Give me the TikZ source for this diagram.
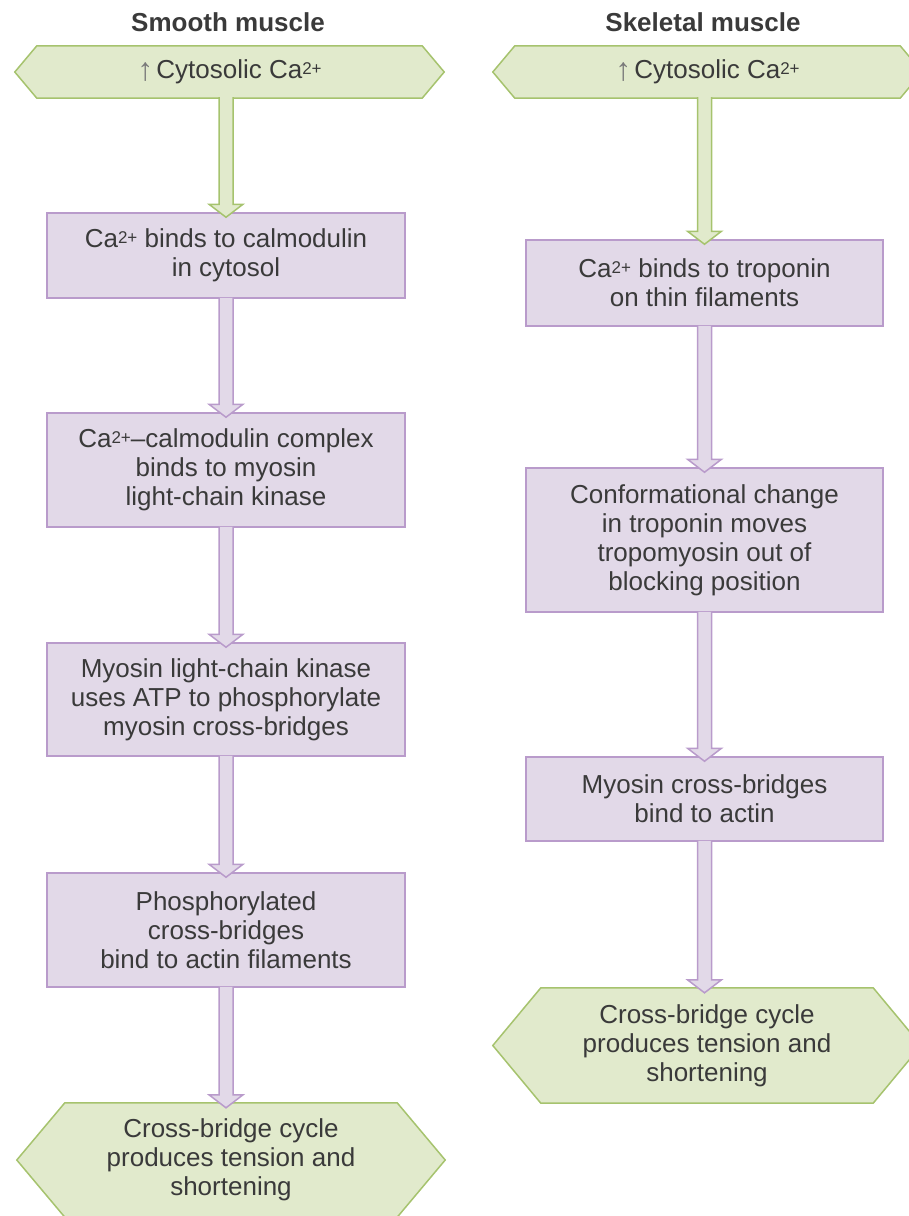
\documentclass[tikz,border=0pt]{standalone}
\usepackage{fontspec}
\setmainfont{Liberation Sans}
\usetikzlibrary{calc,backgrounds}
\definecolor{gfill}{HTML}{E1EACC}
\definecolor{gline}{HTML}{A6C36E}
\definecolor{pfill}{HTML}{E2D9E8}
\definecolor{pline}{HTML}{B99BCB}
\definecolor{txt}{HTML}{3A3A3A}
\definecolor{uparr}{HTML}{7A7A7A}
\tikzset{
  every node/.style={font=\fontsize{26}{29}\selectfont, text=txt, align=center, inner sep=0pt},
  titletext/.style={font=\bfseries\fontsize{26}{29}\selectfont},
  pbox/.style={draw=pline, fill=pfill, line width=1.5pt, minimum width=357pt},
  hexnode/.style={minimum width=429pt},
  hexline/.style={draw=gline, fill=gfill, line width=1.5pt, line join=miter},
}
\newcommand{\hexagonpath}[2]{%
  \path[hexline] (#1.west) -- ([xshift=#2]#1.north west) -- ([xshift=-#2]#1.north east)
    -- (#1.east) -- ([xshift=-#2]#1.south east) -- ([xshift=#2]#1.south west) -- cycle;}
\newcommand{\barrow}[5]{%
  \path[fill=#4, draw=#5, line width=1.5pt, line join=miter]
    let \p1=(#1.south), \p2=(#2.north), \p3=(#3) in
    (\x3-7pt,\y1+1pt) -- (\x3-7pt,\y2+8pt) -- (\x3-17pt,\y2+8pt) -- (\x3,\y2-5pt)
    -- (\x3+17pt,\y2+8pt) -- (\x3+7pt,\y2+8pt) -- (\x3+7pt,\y1+1pt);}
\newcommand{\up}{\smash{\raisebox{-2pt}{\color{uparr}\fontsize{32}{29}\selectfont ↑}}\hspace{3pt}}
\newcommand{\cat}{Ca\smash{\raisebox{4.5pt}{\fontsize{17}{17}\selectfont 2+}}}
\begin{document}
\begin{tikzpicture}[x=1pt,y=-1pt]
\useasboundingbox (0,0) rectangle (909,1216);
% titles
\node[titletext] (tL) at (228,22) {Smooth muscle};
\node[titletext] (tR) at (703,22) {Skeletal muscle};
% left column
\node[hexnode, minimum height=52pt] (h1L) at (229.5,72) {\up Cytosolic \cat};
\node[pbox, minimum width=358pt, minimum height=85pt] (b1L) at (226,255.5) {\cat\ binds to calmodulin\\in cytosol};
\node[pbox, minimum width=358pt, minimum height=114pt] (b2L) at (226,470) {\cat–calmodulin complex\\binds to myosin\\light-chain kinase};
\node[pbox, minimum width=358pt, minimum height=113pt] (b3L) at (226,699.5) {Myosin light-chain kinase\\uses ATP to phosphorylate\\myosin cross-bridges};
\node[pbox, minimum width=358pt, minimum height=114pt] (b4L) at (226,930) {Phosphorylated\\cross-bridges\\bind to actin filaments};
\node[hexnode, minimum width=428pt, minimum height=114pt] (h2L) at (231,1160) {Cross-bridge cycle\\produces tension and\\shortening};
% right column
\node[hexnode, minimum height=52pt] (h1R) at (707.5,72) {\up Cytosolic \cat};
\node[pbox, minimum height=86pt] (b1R) at (704.5,283) {\cat\ binds to troponin\\on thin filaments};
\node[pbox, minimum height=144pt] (b2R) at (704.5,540) {Conformational change\\in troponin moves\\tropomyosin out of\\blocking position};
\node[pbox, minimum height=84pt] (b3R) at (704.5,799) {Myosin cross-bridges\\bind to actin};
\node[hexnode, minimum width=428pt, minimum height=115pt] (h2R) at (707,1045.5) {Cross-bridge cycle\\produces tension and\\shortening};
% hexagon outlines
\begin{pgfonlayer}{background}
\hexagonpath{h1L}{22pt}
\hexagonpath{h1R}{22pt}
\hexagonpath{h2L}{48pt}
\hexagonpath{h2R}{48pt}
\end{pgfonlayer}
% arrows
\barrow{h1L}{b1L}{b1L.north}{gfill}{gline}
\barrow{b1L}{b2L}{b1L.south}{pfill}{pline}
\barrow{b2L}{b3L}{b2L.south}{pfill}{pline}
\barrow{b3L}{b4L}{b3L.south}{pfill}{pline}
\barrow{b4L}{h2L}{b4L.south}{pfill}{pline}
\barrow{h1R}{b1R}{b1R.north}{gfill}{gline}
\barrow{b1R}{b2R}{b1R.south}{pfill}{pline}
\barrow{b2R}{b3R}{b2R.south}{pfill}{pline}
\barrow{b3R}{h2R}{b3R.south}{pfill}{pline}
\end{tikzpicture}
\end{document}
